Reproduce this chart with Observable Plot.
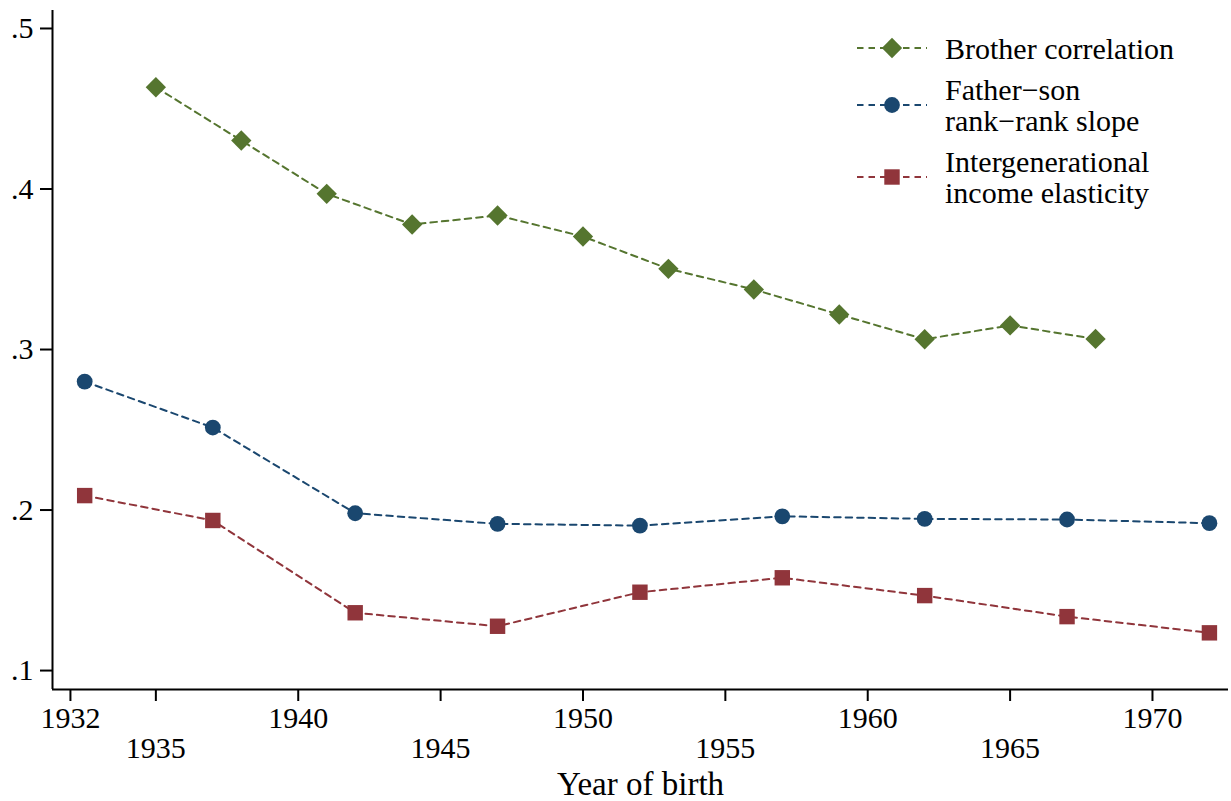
<!DOCTYPE html>
<html>
<head>
<meta charset="utf-8">
<script src="https://cdn.jsdelivr.net/npm/d3@7"></script>
<script src="https://cdn.jsdelivr.net/npm/@observablehq/plot@0.6"></script>
<style>
  html, body { margin: 0; padding: 0; background: #fff; }
  #wrap { position: relative; width: 1231px; height: 801px; }
  #legend { position: absolute; left: 0; top: 0; }
</style>
</head>
<body>
<div id="wrap"></div>
<script>
// ---- data ----
const brotherYears = [1935, 1938, 1941, 1944, 1947, 1950, 1953, 1956, 1959, 1962, 1965, 1968];
const brotherCorr  = [0.4634, 0.4302, 0.3970, 0.3779, 0.3835, 0.3704, 0.3503, 0.3374, 0.3218, 0.3064, 0.3150, 0.3066];
const otherYears   = [1932.5, 1937, 1942, 1947, 1952, 1957, 1962, 1967, 1972];
const rankSlope    = [0.2800, 0.2514, 0.1980, 0.1914, 0.1903, 0.1961, 0.1945, 0.1941, 0.1918];
const incomeElast  = [0.2090, 0.1935, 0.1360, 0.1276, 0.1488, 0.1578, 0.1467, 0.1336, 0.1235];
const xTicksRow1 = [1932, 1940, 1950, 1960, 1970];
const xTicksRow2 = [1935, 1945, 1955, 1965];
const yTicks = [0.1, 0.2, 0.3, 0.4, 0.5];
const seriesNames = ["Brother correlation", "Father\u2212son\nrank\u2212rank slope", "Intergenerational\nincome elasticity"];
const seriesColors = ["#55752f", "#1a476f", "#90353b"];
const xTitle = "Year of birth";

const xDomain = [1931.37, 1972.67];
const yDomain = [0.0882, 0.5112];

const brother = brotherYears.map((x, i) => ({x, y: brotherCorr[i]}));
const rank = otherYears.map((x, i) => ({x, y: rankSlope[i]}));
const ige = otherYears.map((x, i) => ({x, y: incomeElast[i]}));

const font = "'Liberation Serif', 'Times New Roman', serif";
const dash = "6.5,5";
const yFmt = d => d3.format(".1f")(d).replace(/^0/, "");

const chart = Plot.plot({
  width: 1231,
  height: 801,
  marginLeft: 52,
  marginRight: 3,
  marginTop: 10,
  marginBottom: 112,
  style: {fontFamily: font, color: "black", background: "white", overflow: "visible"},
  x: {domain: xDomain},
  y: {domain: yDomain},
  marks: [
    Plot.axisY({ticks: yTicks, tickSize: 12, tickPadding: 7, strokeWidth: 2, tickFormat: yFmt, label: null, fontSize: 30}),
    Plot.axisX({ticks: xTicksRow1, tickSize: 12, tickPadding: 5, strokeWidth: 2, tickFormat: d => String(d), label: null, fontSize: 30}),
    Plot.axisX({ticks: xTicksRow2, tickSize: 12, tickPadding: 35, strokeWidth: 2, tickFormat: d => String(d), label: null, fontSize: 30}),
    Plot.ruleX([xDomain[0]], {strokeWidth: 2, stroke: "black"}),
    Plot.ruleY([yDomain[0]], {strokeWidth: 2, stroke: "black"}),
    Plot.line(brother, {x: "x", y: "y", stroke: seriesColors[0], strokeWidth: 2, strokeDasharray: dash}),
    Plot.line(rank, {x: "x", y: "y", stroke: seriesColors[1], strokeWidth: 2, strokeDasharray: dash}),
    Plot.line(ige, {x: "x", y: "y", stroke: seriesColors[2], strokeWidth: 2, strokeDasharray: dash}),
    Plot.dot(brother, {x: "x", y: "y", symbol: "square", r: 8.1, rotate: 45, fill: seriesColors[0]}),
    Plot.dot(rank, {x: "x", y: "y", symbol: "circle", r: 7.9, fill: seriesColors[1]}),
    Plot.dot(ige, {x: "x", y: "y", symbol: "square", r: 8.7, fill: seriesColors[2]}),
    Plot.text([xTitle], {frameAnchor: "bottom", dy: 105, fontSize: 33, fill: "black", lineAnchor: "bottom"})
  ]
});
document.getElementById("wrap").appendChild(chart);

// ---- legend (overlay) ----
const legendRows = [48, 105, 177];
const lg = d3.select("#wrap").append("svg").attr("id", "legend")
  .attr("width", 1231).attr("height", 801).style("pointer-events", "none");
const symbols = [d3.symbolSquare, d3.symbolCircle, d3.symbolSquare];
const sizes = [8.1, 7.9, 8.7];
seriesNames.forEach((name, i) => {
  const cy = legendRows[i];
  const g = lg.append("g");
  g.append("line").attr("x1", 857).attr("x2", 927).attr("y1", cy).attr("y2", cy)
    .attr("stroke", seriesColors[i]).attr("stroke-width", 2).attr("stroke-dasharray", dash);
  g.append("path")
    .attr("d", d3.symbol(symbols[i], sizes[i] * sizes[i] * Math.PI)())
    .attr("transform", `translate(892,${cy})` + (i === 0 ? " rotate(45)" : ""))
    .attr("fill", seriesColors[i]);
  const lines = name.split("\n");
  const lh = 31;
  const first = cy - (lines.length - 1) * lh / 2;
  lines.forEach((t, j) => {
    g.append("text").attr("x", 945).attr("y", first + j * lh)
      .attr("dy", "0.35em")
      .attr("font-family", font).attr("font-size", 30).attr("fill", "black")
      .text(t);
  });
});
</script>
</body>
</html>
